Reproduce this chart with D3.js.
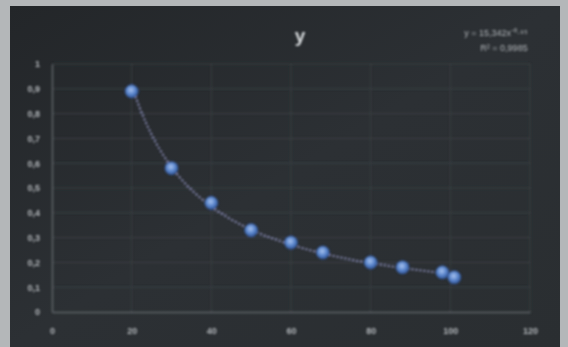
<!DOCTYPE html>
<html>
<head>
<meta charset="utf-8">
<script src="https://cdn.jsdelivr.net/npm/d3@7"></script>
<style>
  html, body { margin: 0; padding: 0; background: #b4b7b9; }
  svg { display: block; }
</style>
</head>
<body>
<svg id="svg" width="568" height="347"></svg>
<script>
// values
const xValues = [20, 30, 40, 50, 60, 68, 80, 88, 98, 101]
const yValues = [0.89, 0.58, 0.44, 0.33, 0.28, 0.24, 0.2, 0.18, 0.16, 0.14]
const xTicks = [0, 20, 40, 60, 80, 100, 120]
const yTicks = [0, 0.1, 0.2, 0.3, 0.4, 0.5, 0.6, 0.7, 0.8, 0.9, 1]
const title = 'y'
const eqLines = ['y = 15,342x\u207B\u2070\u00B7\u2079\u2075', 'R\u00B2 = 0,9985']

const points = xValues.map((x, i) => ({ x: x, y: yValues[i] }))

// power trend y = a * x^b, fitted in log space on the points
const lx = xValues.map(Math.log)
const ly = yValues.map(Math.log)
const mx = d3.mean(lx)
const my = d3.mean(ly)
const trendB = d3.sum(lx, (v, i) => (v - mx) * (ly[i] - my)) / d3.sum(lx, v => (v - mx) * (v - mx))
const trendA = Math.exp(my - trendB * mx)

const svg = d3.select('#svg')
const defs = svg.append('defs')

const bg = defs.append('linearGradient').attr('id', 'bg')
  .attr('x1', 0).attr('y1', 0).attr('x2', 1).attr('y2', 1)
bg.append('stop').attr('offset', 0).attr('stop-color', '#232629')
bg.append('stop').attr('offset', 0.5).attr('stop-color', '#2c3034')
bg.append('stop').attr('offset', 1).attr('stop-color', '#2a2e31')

const dot = defs.append('radialGradient').attr('id', 'dot')
  .attr('cx', 0.45).attr('cy', 0.4).attr('r', 0.6)
dot.append('stop').attr('offset', 0).attr('stop-color', '#a9c3ee')
dot.append('stop').attr('offset', 0.55).attr('stop-color', '#5a86cc')
dot.append('stop').attr('offset', 1).attr('stop-color', '#34589a')

defs.append('filter').attr('id', 'soft')
  .append('feGaussianBlur').attr('stdDeviation', 0.9)

// dark chart panel on the light photo border
svg.append('rect')
  .attr('x', 10).attr('y', 6)
  .attr('width', 550).attr('height', 341)
  .attr('fill', 'url(#bg)')

const g = svg.append('g').attr('filter', 'url(#soft)')

const xScale = d3.scaleLinear()
  .domain([0, 120])
  .range([52, 530])

const yScale = d3.scaleLinear()
  .domain([0, 1])
  .range([312, 64])

// gridlines
g.append('g')
  .selectAll('line')
  .data(yTicks.slice(1))
  .enter()
  .append('line')
  .attr('x1', xScale(0)).attr('x2', xScale(120))
  .attr('y1', d => yScale(d)).attr('y2', d => yScale(d))
  .attr('stroke', '#3b4044')
  .attr('stroke-width', 1)

g.append('g')
  .selectAll('line')
  .data(xTicks.slice(1))
  .enter()
  .append('line')
  .attr('x1', d => xScale(d)).attr('x2', d => xScale(d))
  .attr('y1', yScale(0)).attr('y2', yScale(1))
  .attr('stroke', '#3b4044')
  .attr('stroke-width', 1)

// axes
const fmt = d => String(d).replace('.', ',')

const xAxis = g.append('g')
  .attr('transform', `translate(0,${yScale(0)})`)
  .call(d3.axisBottom(xScale).tickValues(xTicks).tickSize(0).tickPadding(16).tickFormat(fmt))
const yAxis = g.append('g')
  .attr('transform', `translate(${xScale(0)},0)`)
  .call(d3.axisLeft(yScale).tickValues(yTicks).tickSize(0).tickPadding(12).tickFormat(fmt))

;[xAxis, yAxis].forEach(a => {
  a.select('.domain').attr('stroke', '#5e6367').attr('stroke-width', 1.5)
  a.selectAll('text')
    .attr('fill', '#b3b7bb')
    .style('font-family', 'Liberation Sans, Arial, sans-serif')
    .style('font-size', '9px')
    .style('font-weight', 'bold')
})

// power trendline
const trend = d3.range(xValues[0], d3.max(xValues) + 0.5, 0.5)
  .map(x => ({ x: x, y: trendA * Math.pow(x, trendB) }))

g.append('path')
  .datum(trend)
  .attr('d', d3.line().x(d => xScale(d.x)).y(d => yScale(d.y)))
  .attr('fill', 'none')
  .attr('stroke', '#a4a6dc')
  .attr('stroke-width', 2)
  .attr('stroke-dasharray', '2,2')
  .attr('opacity', 0.8)

// markers
g.append('g')
  .selectAll('circle')
  .data(points)
  .enter()
  .append('circle')
  .attr('cx', d => xScale(d.x))
  .attr('cy', d => yScale(d.y))
  .attr('r', 6.5)
  .attr('fill', 'url(#dot)')
  .attr('stroke', '#2f4f8c')
  .attr('stroke-width', 1)

// title and trend label
g.append('text')
  .attr('x', 300).attr('y', 42)
  .attr('text-anchor', 'middle')
  .attr('fill', '#d6d9dc')
  .style('font-family', 'Liberation Sans, Arial, sans-serif')
  .style('font-size', '19px')
  .style('font-weight', 'bold')
  .text(title)

g.append('g')
  .selectAll('text')
  .data(eqLines)
  .enter()
  .append('text')
  .attr('x', (d, i) => i === 0 ? 496 : 504)
  .attr('y', (d, i) => 36 + i * 15)
  .attr('text-anchor', 'middle')
  .attr('fill', '#b3b7bb')
  .style('font-family', 'Liberation Sans, Arial, sans-serif')
  .style('font-size', '9px')
  .text(d => d)
</script>
</body>
</html>
